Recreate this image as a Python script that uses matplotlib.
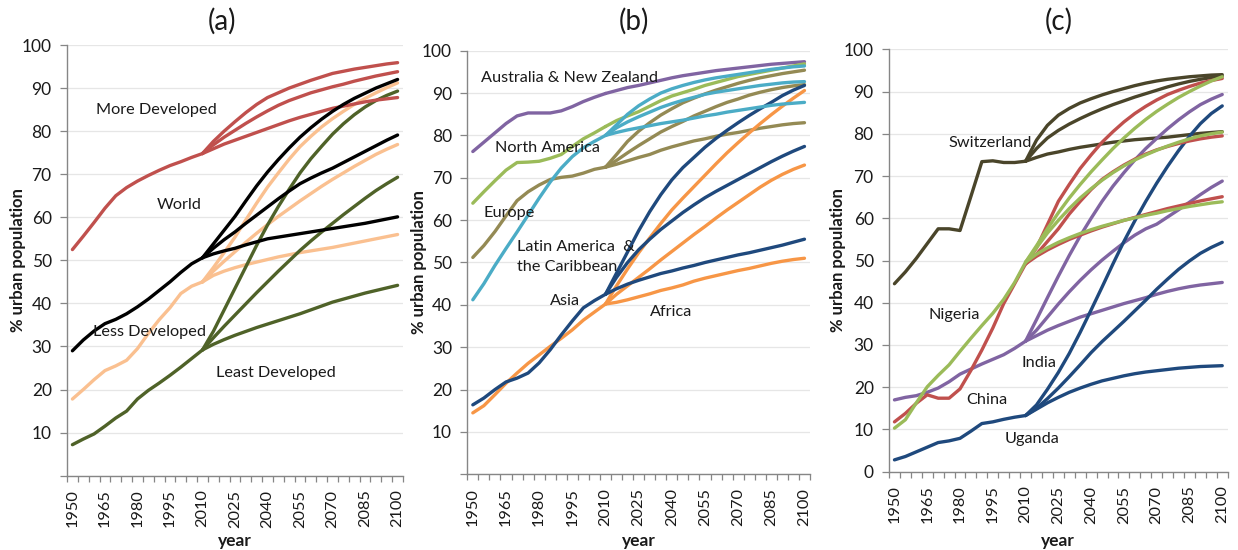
import matplotlib.pyplot as plt

plt.rcParams['font.family'] = ['Lato', 'DejaVu Sans']

# five-year steps: 1950-2010 observed, 2010-2100 three projection variants
years_hist = list(range(1950, 2011, 5))
years_proj = list(range(2010, 2101, 5))
tick_years = list(range(1950, 2101, 15))

# (a) development groups
more_dev_hist = [52.5, 55.6, 58.8, 62.1, 65.0, 66.9, 68.4, 69.7, 70.9, 72.0, 72.9, 73.9, 74.8]
more_dev_high = [74.8, 77.6, 80.0, 82.2, 84.3, 86.2, 87.8, 88.9, 90.0, 90.9, 91.8, 92.6, 93.4, 93.9, 94.4, 94.8, 95.2, 95.6, 95.9]
more_dev_mid = [74.8, 76.8, 78.6, 80.2, 81.8, 83.3, 84.7, 86.0, 87.1, 88.0, 88.9, 89.6, 90.3, 90.9, 91.6, 92.2, 92.8, 93.3, 93.8]
more_dev_low = [74.8, 75.9, 77.0, 77.9, 78.8, 79.7, 80.6, 81.5, 82.4, 83.2, 83.9, 84.6, 85.3, 85.8, 86.3, 86.8, 87.2, 87.5, 87.8]

world_hist = [29.0, 31.5, 33.6, 35.3, 36.3, 37.6, 39.2, 41.0, 43.0, 45.0, 47.2, 49.2, 50.6]
world_high = [50.6, 53.8, 57.0, 60.2, 63.8, 67.3, 70.5, 73.4, 76.1, 78.6, 80.8, 82.8, 84.6, 86.2, 87.6, 88.8, 90.0, 91.0, 92.0]
world_mid = [50.6, 52.8, 54.8, 56.6, 58.6, 60.5, 62.4, 64.3, 66.1, 67.8, 69.1, 70.3, 71.4, 72.7, 74.0, 75.3, 76.6, 77.9, 79.1]
world_low = [50.6, 51.5, 52.2, 52.8, 53.6, 54.3, 55.0, 55.4, 55.8, 56.2, 56.6, 57.0, 57.4, 57.8, 58.2, 58.6, 59.1, 59.6, 60.1]

less_dev_hist = [17.8, 20.0, 22.3, 24.4, 25.5, 26.8, 29.5, 33.0, 36.2, 39.0, 42.3, 44.0, 45.0]
less_dev_high = [45.0, 48.3, 51.8, 55.4, 59.4, 63.3, 67.0, 70.3, 73.5, 76.4, 78.8, 81.0, 82.9, 84.6, 86.2, 87.6, 88.9, 90.1, 91.2]
less_dev_mid = [45.0, 47.5, 49.8, 52.0, 54.2, 56.3, 58.3, 60.2, 62.0, 63.8, 65.5, 67.2, 68.8, 70.3, 71.8, 73.2, 74.6, 75.8, 76.9]
less_dev_low = [45.0, 46.5, 47.5, 48.3, 49.0, 49.6, 50.2, 50.8, 51.3, 51.8, 52.2, 52.6, 53.0, 53.5, 54.0, 54.5, 55.0, 55.5, 56.0]

least_dev_hist = [7.2, 8.5, 9.7, 11.5, 13.4, 15.0, 17.8, 19.8, 21.5, 23.3, 25.2, 27.2, 29.2]
least_dev_high = [29.2, 33.5, 38.5, 43.5, 48.5, 53.5, 58.2, 62.5, 66.5, 70.3, 73.6, 76.5, 79.3, 81.7, 83.8, 85.6, 87.1, 88.3, 89.3]
least_dev_mid = [29.2, 32.0, 34.7, 37.3, 39.9, 42.5, 45.0, 47.5, 49.9, 52.3, 54.5, 56.6, 58.6, 60.6, 62.5, 64.4, 66.2, 67.8, 69.3]
least_dev_low = [29.2, 30.5, 31.6, 32.6, 33.5, 34.4, 35.2, 36.0, 36.8, 37.6, 38.5, 39.4, 40.3, 41.0, 41.7, 42.4, 43.0, 43.6, 44.2]

# (b) world regions
anz_hist = [76.2, 78.4, 80.6, 82.8, 84.6, 85.3, 85.3, 85.3, 85.8, 86.8, 88.0, 89.0, 89.9]
anz_proj = [89.9, 90.6, 91.3, 91.8, 92.4, 93.0, 93.6, 94.1, 94.5, 94.9, 95.3, 95.6, 95.9, 96.2, 96.5, 96.8, 97.0, 97.2, 97.4]

namer_hist = [64.0, 66.7, 69.3, 71.8, 73.6, 73.7, 73.9, 74.6, 75.5, 77.4, 79.2, 80.6, 82.1]
namer_proj = [82.1, 83.5, 84.6, 85.6, 86.9, 88.2, 89.3, 90.1, 90.9, 91.8, 92.5, 93.2, 93.9, 94.4, 94.9, 95.4, 95.9, 96.4, 96.9]

europe_hist = [51.2, 54.0, 57.3, 61.0, 64.6, 66.7, 68.3, 69.6, 70.1, 70.4, 71.1, 72.0, 72.5]
europe_high = [72.5, 75.5, 78.6, 81.0, 83.0, 84.8, 86.3, 87.7, 88.8, 89.8, 90.7, 91.5, 92.3, 93.0, 93.6, 94.1, 94.6, 95.0, 95.4]
europe_mid = [72.5, 74.1, 75.9, 77.6, 79.2, 80.8, 82.1, 83.3, 84.6, 85.7, 86.8, 87.8, 88.6, 89.5, 90.2, 90.8, 91.3, 91.7, 92.0]
europe_low = [72.5, 73.2, 74.0, 74.8, 75.5, 76.5, 77.3, 78.0, 78.7, 79.2, 79.8, 80.3, 80.7, 81.2, 81.7, 82.1, 82.5, 82.8, 83.0]

latam_hist = [41.2, 45.0, 49.3, 53.3, 57.2, 61.2, 65.2, 69.0, 72.3, 75.0, 77.1, 78.6, 80.0]
latam_high = [80.0, 82.5, 85.0, 87.0, 88.6, 90.0, 91.0, 91.8, 92.5, 93.1, 93.6, 94.0, 94.4, 94.8, 95.2, 95.6, 95.9, 96.2, 96.4]
latam_mid = [80.0, 81.8, 83.2, 84.4, 85.5, 86.6, 87.5, 88.3, 89.0, 89.7, 90.2, 90.6, 91.0, 91.4, 91.8, 92.1, 92.4, 92.6, 92.7]
latam_low = [80.0, 80.7, 81.3, 81.8, 82.3, 82.8, 83.2, 83.6, 84.1, 84.6, 85.0, 85.5, 85.9, 86.3, 86.7, 87.1, 87.4, 87.6, 87.8]

asia_hist = [16.4, 18.0, 20.0, 21.8, 22.7, 23.9, 26.3, 29.4, 32.9, 36.2, 39.3, 41.0, 42.5]
asia_high = [42.5, 47.5, 52.5, 57.5, 62.0, 66.0, 69.5, 72.4, 74.8, 77.2, 79.3, 81.2, 83.0, 84.7, 86.3, 87.8, 89.4, 90.7, 91.8]
asia_mid = [42.5, 46.5, 50.0, 53.0, 55.5, 57.8, 59.8, 61.8, 63.6, 65.3, 66.8, 68.2, 69.6, 71.0, 72.4, 73.8, 75.1, 76.3, 77.4]
asia_low = [42.5, 43.8, 44.9, 45.8, 46.6, 47.4, 48.0, 48.7, 49.3, 50.0, 50.6, 51.2, 51.8, 52.3, 52.9, 53.5, 54.1, 54.8, 55.5]

africa_hist = [14.5, 16.2, 18.8, 21.5, 23.9, 26.2, 28.2, 30.2, 32.1, 34.1, 36.4, 38.3, 40.2]
africa_high = [40.2, 44.5, 48.5, 52.3, 55.8, 59.2, 62.4, 65.2, 67.9, 70.6, 73.3, 75.9, 78.3, 80.6, 82.8, 84.9, 86.9, 88.8, 90.6]
africa_mid = [40.2, 42.5, 44.5, 46.5, 48.5, 50.6, 52.6, 54.6, 56.6, 58.5, 60.5, 62.4, 64.2, 66.0, 67.8, 69.4, 70.8, 72.0, 73.0]
africa_low = [40.2, 40.6, 41.2, 41.9, 42.6, 43.4, 44.0, 44.7, 45.6, 46.3, 46.9, 47.5, 48.1, 48.6, 49.2, 49.8, 50.3, 50.7, 51.0]

# (c) selected countries
swiss_hist = [44.5, 47.3, 50.5, 54.0, 57.5, 57.5, 57.1, 65.2, 73.4, 73.6, 73.2, 73.2, 73.5]
swiss_high = [73.5, 78.5, 82.0, 84.4, 86.0, 87.3, 88.3, 89.2, 90.0, 90.7, 91.4, 92.0, 92.5, 92.9, 93.2, 93.5, 93.7, 93.9, 94.0]
swiss_mid = [73.5, 76.5, 79.0, 80.8, 82.3, 83.6, 84.8, 85.9, 86.9, 87.8, 88.7, 89.5, 90.3, 91.1, 91.8, 92.4, 92.9, 93.3, 93.6]
swiss_low = [73.5, 74.4, 75.2, 75.7, 76.3, 76.8, 77.2, 77.6, 78.0, 78.3, 78.6, 78.8, 79.0, 79.2, 79.5, 79.8, 80.1, 80.3, 80.5]

china_hist = [11.8, 13.8, 16.2, 18.2, 17.4, 17.4, 19.6, 24.0, 28.8, 34.0, 39.8, 44.5, 49.2]
china_high = [49.2, 53.0, 58.5, 64.0, 68.0, 71.8, 75.0, 78.0, 80.5, 82.8, 84.8, 86.5, 88.0, 89.3, 90.3, 91.2, 92.0, 92.6, 93.1]
china_mid = [49.2, 51.5, 54.5, 57.5, 61.0, 64.0, 66.8, 69.2, 71.0, 72.6, 74.0, 75.2, 76.2, 77.0, 77.7, 78.3, 78.8, 79.2, 79.5]
china_low = [49.2, 51.0, 52.5, 53.8, 55.0, 56.0, 57.0, 57.9, 58.7, 59.5, 60.2, 60.9, 61.6, 62.3, 62.9, 63.5, 64.1, 64.6, 65.1]

nigeria_hist = [10.3, 12.3, 16.3, 20.1, 22.8, 25.3, 28.5, 31.6, 34.6, 37.5, 40.8, 44.8, 49.6]
nigeria_high = [49.6, 53.5, 57.5, 61.3, 64.8, 68.0, 71.0, 73.8, 76.5, 79.0, 81.3, 83.4, 85.3, 87.0, 88.6, 90.0, 91.3, 92.5, 93.5]
nigeria_mid = [49.6, 53.0, 56.5, 59.5, 62.3, 64.8, 67.0, 69.0, 70.8, 72.4, 73.8, 75.0, 76.1, 77.1, 78.0, 78.8, 79.5, 80.0, 80.4]
nigeria_low = [49.6, 51.5, 53.0, 54.3, 55.4, 56.4, 57.3, 58.1, 58.8, 59.5, 60.1, 60.7, 61.2, 61.8, 62.3, 62.8, 63.2, 63.6, 63.9]

india_hist = [17.0, 17.6, 18.0, 18.8, 19.8, 21.3, 23.1, 24.3, 25.5, 26.6, 27.7, 29.2, 30.9]
india_high = [30.9, 36.0, 41.2, 46.3, 51.2, 55.8, 60.0, 64.0, 67.6, 70.8, 73.8, 76.5, 78.9, 81.2, 83.3, 85.2, 86.9, 88.2, 89.3]
india_mid = [30.9, 33.5, 36.6, 39.7, 42.6, 45.3, 47.8, 50.1, 52.2, 54.2, 56.0, 57.5, 58.6, 60.3, 62.0, 63.8, 65.6, 67.3, 68.8]
india_low = [30.9, 32.2, 33.5, 34.6, 35.6, 36.6, 37.4, 38.2, 39.0, 39.8, 40.5, 41.2, 42.0, 42.7, 43.3, 43.8, 44.2, 44.5, 44.8]

uganda_hist = [2.8, 3.6, 4.7, 5.8, 6.9, 7.3, 7.9, 9.6, 11.4, 11.8, 12.4, 12.9, 13.3]
uganda_high = [13.3, 15.8, 19.5, 23.5, 28.0, 33.0, 38.3, 43.7, 49.2, 54.5, 59.4, 64.0, 68.3, 72.3, 76.0, 79.4, 82.4, 84.8, 86.6]
uganda_mid = [13.3, 15.0, 17.3, 19.8, 22.5, 25.3, 28.2, 30.8, 33.2, 35.6, 38.1, 40.6, 43.2, 45.6, 47.9, 49.9, 51.7, 53.1, 54.3]
uganda_low = [13.3, 14.8, 16.3, 17.6, 18.8, 19.8, 20.7, 21.5, 22.1, 22.7, 23.2, 23.6, 23.9, 24.2, 24.5, 24.7, 24.9, 25.0, 25.1]

RED = '#C0504D'
GREEN = '#9BBB59'
PURPLE = '#8064A2'
NAVY = '#1F497D'
ORANGE = '#F79646'
CYAN = '#4BACC6'
OLIVE = '#948A54'
PEACH = '#FAC090'
DARKGREEN = '#4F6228'
BROWN = '#4A452A'
INK = '#1a1a1a'

panel_a = [
    (less_dev_hist, [less_dev_high, less_dev_mid, less_dev_low], PEACH),
    (least_dev_hist, [least_dev_high, least_dev_mid, least_dev_low], DARKGREEN),
    (more_dev_hist, [more_dev_high, more_dev_mid, more_dev_low], RED),
    (world_hist, [world_high, world_mid, world_low], 'black'),
]
panel_b = [
    (europe_hist, [europe_high, europe_mid, europe_low], OLIVE),
    (africa_hist, [africa_high, africa_mid, africa_low], ORANGE),
    (asia_hist, [asia_high, asia_mid, asia_low], NAVY),
    (anz_hist, [anz_proj], PURPLE),
    (namer_hist, [namer_proj], GREEN),
    (latam_hist, [latam_high, latam_mid, latam_low], CYAN),
]
panel_c = [
    (swiss_hist, [swiss_high, swiss_mid, swiss_low], BROWN),
    (india_hist, [india_high, india_mid, india_low], PURPLE),
    (uganda_hist, [uganda_high, uganda_mid, uganda_low], NAVY),
    (china_hist, [china_high, china_mid, china_low], RED),
    (nigeria_hist, [nigeria_high, nigeria_mid, nigeria_low], GREEN),
]

labels_a = [('More Developed', 1960.7, 84.8), ('World', 1988.7, 62.8),
            ('Less Developed', 1959.5, 33.4), ('Least Developed', 2016.4, 23.8)]
labels_b = [('Australia & New Zealand', 1953.6, 93.5), ('North America', 1960.0, 77.0),
            ('Europe', 1954.7, 61.6), ('Latin America  &', 1969.9, 53.7),
            ('the Caribbean', 1969.9, 49.0), ('Asia', 1984.9, 41.0), ('Africa', 2030.2, 38.4)]
labels_c = [('Switzerland', 1974.6, 77.7), ('Nigeria', 1965.5, 37.1), ('India', 2008.2, 25.7),
            ('China', 1983.0, 17.0), ('Uganda', 2000.5, 7.7)]

fig = plt.figure(figsize=(12.38, 5.5), dpi=100)
W, H = 1238, 550


def add_panel(box, series, labels, title, title_x, ylab_x, zero_label):
    left, top, right, bottom = box
    ax = fig.add_axes([left / W, 1 - bottom / H, (right - left) / W, (bottom - top) / H])
    for hist, projections, color in series:
        for proj in projections:
            ax.plot(years_proj, proj, color=color, lw=2.4, solid_joinstyle='round',
                    solid_capstyle='round')
        ax.plot(years_hist, hist, color=color, lw=2.4, solid_joinstyle='round',
                solid_capstyle='round')
    for text, x, y in labels:
        ax.text(x, y, text, fontsize=11.7, color=INK, ha='left', va='center')

    ax.set_xlim(1947.5, 2102.5)
    ax.set_ylim(0, 100)
    yt = list(range(0, 101, 10))
    ax.set_yticks(yt)
    ax.set_yticklabels([str(v) if (v > 0 or zero_label) else '' for v in yt])
    ax.yaxis.grid(True, color='#E6E6E6', lw=0.9)
    ax.set_axisbelow(True)

    # category boundaries get tick marks, labels sit on every third category
    ax.set_xticks([1947.5 + 5 * k for k in range(32)])
    ax.set_xticklabels([])
    ax.set_xticks(tick_years, minor=True)
    ax.set_xticklabels([str(y) for y in tick_years], minor=True, rotation=90)
    ax.tick_params(axis='x', which='major', length=4, color='#868686', width=0.9)
    ax.tick_params(axis='x', which='minor', length=0, pad=10, labelsize=11.8, colors=INK)
    ax.tick_params(axis='y', length=5, color='#868686', width=0.9, pad=6,
                   labelsize=12.5, labelcolor=INK)

    for side in ('top', 'right'):
        ax.spines[side].set_visible(False)
    for side in ('left', 'bottom'):
        ax.spines[side].set_color('#868686')
        ax.spines[side].set_linewidth(1.0)

    fig.text(title_x / W, 1 - 21 / H, title, fontsize=20, ha='center', va='center', color=INK)
    fig.text(ylab_x / W, 1 - ((top + bottom) / 2) / H, '% urban population', rotation=90,
             fontsize=12, fontweight='bold', ha='center', va='center', color=INK)
    fig.text(((left + right) / 2) / W, 1 - 541 / H, 'year', fontsize=12.5,
             fontweight='bold', ha='center', va='center', color=INK)
    return ax


add_panel((67, 45, 403, 475.7), panel_a, labels_a, '(a)', 222, 18.5, False)
add_panel((467.3, 50.7, 810, 474.3), panel_b, labels_b, '(b)', 634, 419, False)
add_panel((889, 49.3, 1227.7, 471.7), panel_c, labels_c, '(c)', 1059, 838, True)

fig.savefig('out.png', dpi=100)
